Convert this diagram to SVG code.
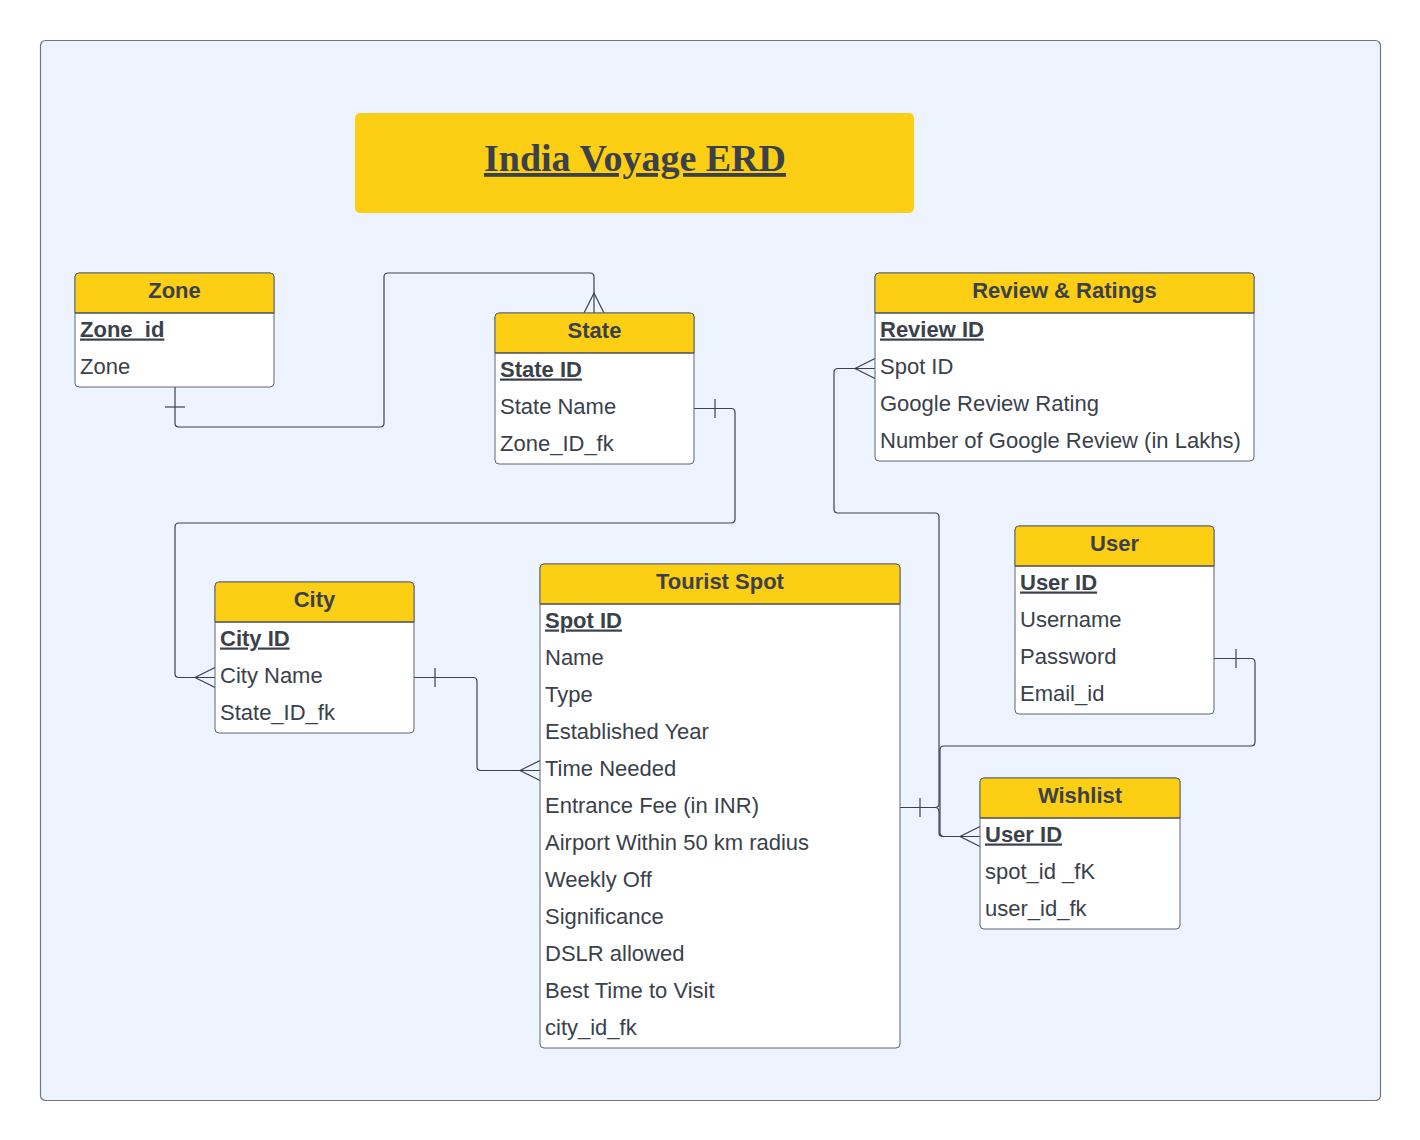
<svg xmlns="http://www.w3.org/2000/svg" width="1420" height="1140" viewBox="0 0 1420 1140">
<defs>
<style>
.bg{fill:#EDF4FF;stroke:#6f7681;stroke-width:1.2}
.box{fill:#ffffff;stroke:#5e6570;stroke-width:1}
.hdr{fill:#FCCE14;stroke:#5e6570;stroke-width:1}
.sep{stroke:#3a414a;stroke-width:1.2}
.ht{font-family:"Liberation Sans",Arial,sans-serif;font-size:22px;font-weight:bold;fill:#3a414a;text-anchor:middle}
.rt{font-family:"Liberation Sans",Arial,sans-serif;font-size:22px;fill:#3a414a}
.pk{font-weight:bold;text-decoration:underline}
.conn path{fill:none;stroke:#3a414a;stroke-width:1.2}
</style>
</defs>
<rect class="bg" x="40.5" y="40.5" width="1340" height="1060" rx="5"/>

<g id="title">
<rect x="355" y="113" width="559" height="100" rx="5" fill="#FCCE14"/>
<text x="635" y="171" font-family="'Liberation Serif','Times New Roman',serif" font-size="38" font-weight="bold" fill="#3a414a" text-anchor="middle" text-decoration="underline">India Voyage ERD</text>
</g>

<g class="conn" id="connectors">
<path d="M175,387 V423 Q175,427 179,427 H380 Q384,427 384,423 V277 Q384,273 388,273 H590 Q594,273 594,277 V313"/>
<path d="M165,407 H185"/>
<path d="M584,313 L594,293 L604,313"/>

<path d="M694,408.5 H731 Q735,408.5 735,412.5 V519 Q735,523 731,523 H179 Q175,523 175,527 V673.5 Q175,677.5 179,677.5 H215"/>
<path d="M715,399 V418"/>
<path d="M215,667.5 L195,677.5 L215,687.5"/>

<path d="M414,677.5 H473 Q477,677.5 477,681.5 V766.5 Q477,770.5 481,770.5 H540"/>
<path d="M435,668 V687"/>
<path d="M540,760.5 L520,770.5 L540,780.5"/>

<path d="M900,807.5 H935 Q939,807.5 939,803.5 V517 Q939,513 935,513 H838 Q834,513 834,509 V372.5 Q834,368.5 838,368.5 H875"/>
<path d="M920,798 V817"/>
<path d="M875,358.5 L855,368.5 L875,378.5"/>

<path d="M900,807.5 H935 Q939,807.5 939,811.5 V832.5 Q939,836.5 943,836.5 H980"/>
<path d="M980,826.5 L960,836.5 L980,846.5"/>

<path d="M1214,658.5 H1251 Q1255,658.5 1255,662.5 V742 Q1255,746 1251,746 H944 Q940,746 940,750 V832.5 Q940,836.5 944,836.5 H980"/>
<path d="M1236,649 V668"/>
</g>

<g id="zone">
<rect class="box" x="75" y="273" width="199" height="114" rx="4"/>
<path class="hdr" d="M75,313 V277 Q75,273 79,273 H270 Q274,273 274,277 V313 Z"/>
<line class="sep" x1="75" y1="313" x2="274" y2="313"/>
<text class="ht" x="174.5" y="298">Zone</text>
<text class="rt pk" x="80" y="336.5">Zone_id</text>
<text class="rt" x="80" y="373.5">Zone</text>
</g>

<g id="state">
<rect class="box" x="495" y="313" width="199" height="151" rx="4"/>
<path class="hdr" d="M495,353 V317 Q495,313 499,313 H690 Q694,313 694,317 V353 Z"/>
<line class="sep" x1="495" y1="353" x2="694" y2="353"/>
<text class="ht" x="594.5" y="338">State</text>
<text class="rt pk" x="500" y="376.5">State ID</text>
<text class="rt" x="500" y="413.5">State Name</text>
<text class="rt" x="500" y="450.5">Zone_ID_fk</text>
</g>

<g id="review">
<rect class="box" x="875" y="273" width="379" height="188" rx="4"/>
<path class="hdr" d="M875,313 V277 Q875,273 879,273 H1250 Q1254,273 1254,277 V313 Z"/>
<line class="sep" x1="875" y1="313" x2="1254" y2="313"/>
<text class="ht" x="1064.5" y="298">Review &amp; Ratings</text>
<text class="rt pk" x="880" y="336.5">Review ID</text>
<text class="rt" x="880" y="373.5">Spot ID</text>
<text class="rt" x="880" y="410.5">Google Review Rating</text>
<text class="rt" x="880" y="447.5">Number of Google Review (in Lakhs)</text>
</g>

<g id="user">
<rect class="box" x="1015" y="526" width="199" height="188" rx="4"/>
<path class="hdr" d="M1015,566 V530 Q1015,526 1019,526 H1210 Q1214,526 1214,530 V566 Z"/>
<line class="sep" x1="1015" y1="566" x2="1214" y2="566"/>
<text class="ht" x="1114.5" y="551">User</text>
<text class="rt pk" x="1020" y="589.5">User ID</text>
<text class="rt" x="1020" y="626.5">Username</text>
<text class="rt" x="1020" y="663.5">Password</text>
<text class="rt" x="1020" y="700.5">Email_id</text>
</g>

<g id="wishlist">
<rect class="box" x="980" y="778" width="200" height="151" rx="4"/>
<path class="hdr" d="M980,818 V782 Q980,778 984,778 H1176 Q1180,778 1180,782 V818 Z"/>
<line class="sep" x1="980" y1="818" x2="1180" y2="818"/>
<text class="ht" x="1080" y="803">Wishlist</text>
<text class="rt pk" x="985" y="841.5">User ID</text>
<text class="rt" x="985" y="878.5">spot_id _fK</text>
<text class="rt" x="985" y="915.5">user_id_fk</text>
</g>

<g id="city">
<rect class="box" x="215" y="582" width="199" height="151" rx="4"/>
<path class="hdr" d="M215,622 V586 Q215,582 219,582 H410 Q414,582 414,586 V622 Z"/>
<line class="sep" x1="215" y1="622" x2="414" y2="622"/>
<text class="ht" x="314.5" y="607">City</text>
<text class="rt pk" x="220" y="645.5">City ID</text>
<text class="rt" x="220" y="682.5">City Name</text>
<text class="rt" x="220" y="719.5">State_ID_fk</text>
</g>

<g id="tourist-spot">
<rect class="box" x="540" y="564" width="360" height="484" rx="4"/>
<path class="hdr" d="M540,604 V568 Q540,564 544,564 H896 Q900,564 900,568 V604 Z"/>
<line class="sep" x1="540" y1="604" x2="900" y2="604"/>
<text class="ht" x="720" y="589">Tourist Spot</text>
<text class="rt pk" x="545" y="627.5">Spot ID</text>
<text class="rt" x="545" y="664.5">Name</text>
<text class="rt" x="545" y="701.5">Type</text>
<text class="rt" x="545" y="738.5">Established Year</text>
<text class="rt" x="545" y="775.5">Time Needed</text>
<text class="rt" x="545" y="812.5">Entrance Fee (in INR)</text>
<text class="rt" x="545" y="849.5">Airport Within 50 km radius</text>
<text class="rt" x="545" y="886.5">Weekly Off</text>
<text class="rt" x="545" y="923.5">Significance</text>
<text class="rt" x="545" y="960.5">DSLR allowed</text>
<text class="rt" x="545" y="997.5">Best Time to Visit</text>
<text class="rt" x="545" y="1034.5">city_id_fk</text>
</g>
</svg>
